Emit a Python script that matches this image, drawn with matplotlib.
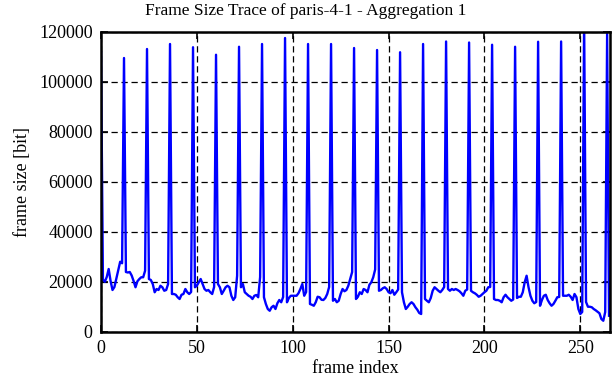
import matplotlib
matplotlib.use("Agg")
import matplotlib.pyplot as plt
import numpy as np

# frame sizes [bit], frames 0..265
frame_size = [
    112000, 21000, 20100, 22000, 25200, 20400, 16800, 18000, 21400, 24800,
    28100, 27500, 109600, 24000, 23800, 24000, 22600, 20400, 17900, 20300,
    21200, 21900, 21900, 24500, 113200, 21200, 20800, 19200, 15900, 17200,
    16800, 18500, 17900, 16500, 16800, 19200, 115200, 15200, 15200, 14900,
    13900, 13200, 14900, 15200, 17200, 15900, 15200, 16000, 113900, 17900,
    18500, 19900, 21200, 19200, 17200, 16500, 16800, 15900, 15200, 18000,
    110900, 19200, 17900, 15200, 16500, 17900, 18500, 17900, 14500, 12800,
    13900, 22500, 114100, 17900, 19200, 15900, 15200, 14500, 14100, 13200,
    14500, 14800, 13900, 22000, 115200, 13900, 11200, 9200, 8500, 9900,
    10500, 9200, 11500, 12800, 11900, 14000, 117600, 11900, 13600, 14500,
    14500, 14500, 14500, 15500, 17200, 19200, 14500, 16000, 115200, 11200,
    10900, 10500, 11900, 14100, 13900, 12900, 12800, 13600, 15200, 18000,
    115200, 12500, 13200, 11900, 12500, 15200, 17200, 16300, 16800, 18500,
    21200, 24000, 113600, 13200, 14100, 15900, 15200, 17200, 16800, 15900,
    18900, 19900, 21900, 25000, 112800, 16500, 16800, 17500, 17900, 17200,
    15900, 15500, 16800, 14900, 15900, 17000, 111900, 15900, 11900, 9200,
    10100, 11200, 11900, 11200, 9900, 8900, 7600, 7200, 115200, 13200,
    12500, 11900, 13600, 16500, 17900, 17200, 16500, 15900, 16800, 18000,
    116200, 17200, 16500, 17200, 16800, 17200, 16800, 16300, 15500, 14500,
    16500, 17000, 115800, 16500, 15900, 15500, 14900, 14100, 14500, 15200,
    15900, 16500, 17900, 18000, 114900, 13200, 12800, 12800, 12500, 11900,
    13900, 14900, 13900, 13200, 12500, 13000, 114100, 13600, 14100, 14100,
    15900, 19900, 22500, 17900, 14500, 12500, 11500, 12000, 116100, 10500,
    12800, 14500, 14900, 12800, 11500, 10500, 11200, 12500, 13900, 14000,
    116200, 14500, 14500, 14500, 14900, 14100, 12800, 15200, 13900, 9200,
    7200, 8000, 125000, 12000, 10100, 10100, 9900, 9200, 8700, 8100,
    7500, 5200, 4500, 8000, 119200, 6500,
]
frame_index = np.arange(len(frame_size))

x_ticks = [0, 50, 100, 150, 200, 250]
y_ticks = [0, 20000, 40000, 60000, 80000, 100000, 120000]

plt.rcParams['font.family'] = 'Liberation Serif'
plt.rcParams['font.size'] = 13

fig = plt.figure(figsize=(6.12, 3.82), dpi=100)
ax = fig.add_axes([101 / 612, 1 - 332 / 382, 509 / 612, 300 / 382])

ax.plot(frame_index, frame_size, color='#0000ff', linewidth=1.7, zorder=3)

ax.set_xlim(0, 265.5)
ax.set_ylim(0, 120000)
ax.set_xticks(x_ticks)
ax.set_yticks(y_ticks)
ax.set_xticklabels([str(t) for t in x_ticks])
ax.set_yticklabels([str(t) for t in y_ticks])

ax.grid(True, color='black', linestyle=(0, (5, 3)), linewidth=0.9, zorder=1)
ax.tick_params(direction='in', top=True, right=True, length=5, width=1.2,
               labelsize=13, pad=6)
for sp in ax.spines.values():
    sp.set_linewidth(1.8)
    sp.set_zorder(4)

ax.set_xlabel("frame index", fontsize=13, labelpad=2)
ax.set_ylabel("frame size [bit]", fontsize=13, labelpad=6)
# title is centred on the whole figure, not on the axes
fig.text(0.5, 1 - 11 / 382, "Frame Size Trace of paris-4-1 - Aggregation 1",
         ha='center', va='center', fontsize=12.5)

fig.savefig("out.png", dpi=100)
